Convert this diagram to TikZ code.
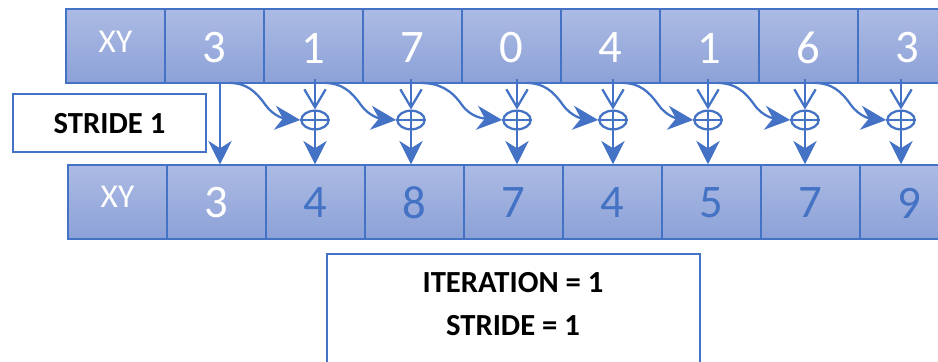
\documentclass[tikz,border=0pt]{standalone}
\usepackage{fontspec}
\setmainfont{Carlito}
\usetikzlibrary{arrows.meta,shapes.geometric,calc}
\definecolor{ublue}{RGB}{68,114,196}
\definecolor{celltop}{RGB}{172,187,228}
\definecolor{cellbot}{RGB}{140,161,215}
\tikzset{
  cell/.style={draw=ublue, line width=1.1pt, top color=celltop, bottom color=cellbot,
    minimum width=74.25pt, minimum height=55.5pt, inner sep=0pt, anchor=center},
  numtxt/.style={inner sep=0pt, font=\fontsize{35}{35}\selectfont},
  xytxt/.style={inner sep=0pt, text=white, font=\fontsize{25}{25}\selectfont},
  boldtxt/.style={inner sep=0pt, text=black, font=\bfseries\fontsize{23}{23}\selectfont},
  infobox/.style={draw=ublue, line width=1.5pt, fill=white, inner sep=0pt},
  conn/.style={draw=ublue, line width=1.7pt},
  bighead/.style={-{Stealth[length=17.5pt,width=17.5pt,inset=5.5pt]}},
  barbhead/.style={-{Straight Barb[length=13.5pt,width=16pt,line width=1.7pt]}},
  plusnode/.style={ellipse, draw=ublue, line width=1.7pt, minimum width=20.5pt,
    minimum height=14pt, inner sep=0pt},
}
\begin{document}
\begin{tikzpicture}[x=0.75pt,y=-0.75pt]
\clip (0,0) rectangle (938,361);
\fill[white] (0,0) rectangle (938,361);

% top row
\node[cell] (t0) at (115.5,46) {};
\node[xytxt] (t0l) at (115.5,42) {XY};
\foreach \v [count=\k from 1] in {3,1,7,0,4,1,6,3} {
  \node[cell] (t\k) at ({115.5+99*\k},46) {};
  \node[numtxt, text=white] (t\k l) at ({115.5+99*\k},48) {\v};
}

% bottom row
\node[cell] (b0) at (117.5,202) {};
\node[xytxt] (b0l) at (117.5,197) {XY};
\node[cell] (b1) at (216.5,202) {};
\node[numtxt, text=white] (b1l) at (216.5,203) {3};
\foreach \v [count=\k from 2] in {4,8,7,4,5,7,9} {
  \node[cell] (b\k) at ({117.5+99*\k},202) {};
  \node[numtxt, text=ublue] (b\k l) at ({117.5+99*\k},203) {\v};
}

% info boxes
\node[infobox, minimum width=144.75pt, minimum height=43.5pt] (stridebox) at (109.5,123) {};
\node[boldtxt] (stridel) at (109.5,124) {STRIDE 1};
\node[infobox, minimum width=279.75pt, minimum height=109.5pt] (iterbox) at (513.5,327) {};
\node[boldtxt] (iterl) at (513,283) {ITERATION = 1};
\node[boldtxt] (stridel2) at (513,326) {STRIDE = 1};

% first straight arrow
\coordinate (s0) at (220,83.5);
\draw[conn, bighead] (s0) -- (s0 |- b1.north);

% plus nodes and arrows
\foreach \x [count=\i from 1] in {315,411,517,613,708,805,901} {
  \node[plusnode] (p\i) at (\x,120) {};
  \draw[conn] (p\i.west) -- (p\i.east);
  \coordinate (s\i) at (\x,79);
  \draw[conn, barbhead] (s\i) -- (p\i.north);
  \pgfmathtruncatemacro{\j}{\i+1}
  \draw[conn, bighead] (p\i.north) -- (p\i.north |- b\j.north);
}

% curved arrows
\foreach \i [count=\k from 1] in {0,1,2,3,4,5,6} {
  \coordinate (c\k) at ($(s\i |- 0,83)+(10,0)$);
  \draw[conn, -{Stealth[length=19pt,width=18pt,inset=6pt]}]
    (c\k) to[out=0,in=125] ($(c\k)!0.5!(p\k.west)+(0,3)$) to[out=-55,in=175] (p\k.west);
}
\end{tikzpicture}
\end{document}
